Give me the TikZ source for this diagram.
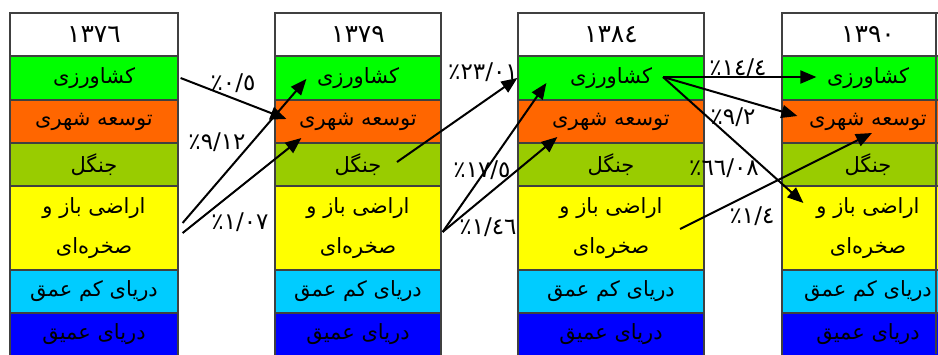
\documentclass[tikz,border=0pt]{standalone}
\usepackage{fontspec}
\newfontfamily\arabicfont[Script=Arabic]{DejaVu Sans}
\TeXXeTstate=1
\usetikzlibrary{arrows.meta,calc}

\definecolor{agri}{HTML}{00FF00}
\definecolor{urban}{HTML}{FF6600}
\definecolor{forest}{HTML}{99CC00}
\definecolor{openland}{HTML}{FFFF00}
\definecolor{shallow}{HTML}{00CCFF}
\definecolor{deep}{HTML}{0000FF}
\definecolor{edge}{HTML}{404040}

\tikzset{
  cell/.style={draw=edge, line width=1.2pt, inner sep=0pt, align=center,
    font=\arabicfont\fontsize{21}{40}\selectfont},
  year/.style={font=\arabicfont\fontsize{25}{28}\selectfont},
  flow/.style={line width=2pt, -{Triangle[length=16pt,width=13pt]}},
  pct/.style={inner sep=0pt, font=\arabicfont\fontsize{23}{26}\selectfont}
}

% percent sign kept on the left of the figure
\newcommand\pcent[1]{\hbox{٪}\hbox{#1}}

% one column of land-use classes: prefix, centre x, width, year
\newcommand\landcolumn[4]{%
  \node[cell, year, fill=white, minimum width=#3pt, minimum height=43pt] (#1h) at (#2,34.5)  {#4};
  \node[cell, fill=agri,     minimum width=#3pt, minimum height=44pt] (#1a) at (#2,78)    {\beginR کشاورزی\endR};
  \node[cell, fill=urban,    minimum width=#3pt, minimum height=43pt] (#1u) at (#2,121.5) {\beginR توسعه شهری\endR};
  \node[cell, fill=forest,   minimum width=#3pt, minimum height=43pt] (#1f) at (#2,164.5) {\beginR جنگل\endR};
  \node[cell, fill=openland, minimum width=#3pt, minimum height=84pt] (#1o) at (#2,228)   {\beginR اراضی باز و\endR\\\beginR صخره‌ای\endR};
  \node[cell, fill=shallow,  minimum width=#3pt, minimum height=43pt] (#1s) at (#2,291.5) {\beginR دریای کم عمق\endR};
  \node[cell, fill=deep,     minimum width=#3pt, minimum height=43pt] (#1d) at (#2,334.5) {\beginR دریای عمیق\endR};
}

\begin{document}
\begin{tikzpicture}[x=1pt, y=-1pt]
  \useasboundingbox (0,0) rectangle (938,354);
  \clip (0,0) rectangle (938,354);

  \landcolumn{c1}{94}{168}{١٣٧٦}
  \landcolumn{c2}{358}{166}{١٣٧٩}
  \landcolumn{c3}{611}{186}{١٣٨٤}
  \landcolumn{c4}{868}{172}{١٣٩٠}
  \draw[edge, line width=1.2pt] (936,13) -- (936,354);

  % start points inside the source classes
  \coordinate (s1)  at ($(c1a.east)+(2,0)$);
  \coordinate (s2)  at ($(c1o.east)+(4,-5)$);
  \coordinate (s3)  at ($(c1o.east)+(4,5)$);
  \coordinate (s4)  at ($(c2f.center)+(39,-2.5)$);
  \coordinate (s5)  at ($(c2o.east)+(1,4)$);
  \coordinate (s7)  at ($(c3a.center)+(52,-1)$);
  \coordinate (s10) at ($(c3o.center)+(69,1)$);

  % tips inside the target classes
  \coordinate (t1)  at ($(c2u.west)+(12,-2.5)$);
  \coordinate (t2)  at ($(c2a.west)+(32,1)$);
  \coordinate (t3)  at ($(c2u.west)+(27,16.5)$);
  \coordinate (t4)  at (c3a.west);
  \coordinate (t5)  at ($(c3a.west)+(29,5)$);
  \coordinate (t6)  at ($(c3u.west)+(40,15.5)$);
  \coordinate (t7)  at ($(c4a.west)+(35,-1)$);
  \coordinate (t8)  at ($(c4u.west)+(16,-5.5)$);
  \coordinate (t9)  at ($(c4o.west)+(22,-25)$);
  \coordinate (t10) at ($(c4u.center)+(4,11.5)$);

  % change percentages
  \node[pct] (p1)  at (233,83)  {\pcent{٠/٥}};
  \node[pct] (p2)  at (217,142) {\pcent{٩/١٢}};
  \node[pct] (p3)  at (240,222) {\pcent{١/٠٧}};
  \node[pct] (p4)  at (483,72)  {\pcent{٢٣/٠١}};
  \node[pct] (p5)  at (482,170) {\pcent{١٧/٥}};
  \node[pct] (p6)  at (488,227) {\pcent{١/٤٦}};
  \node[pct] (p7)  at (738,68)  {\pcent{١٤/٤}};
  \node[pct] (p8)  at (733,117) {\pcent{٩/٢}};
  \node[pct] (p9)  at (724,168) {\pcent{٦٦/٠٨}};
  \node[pct] (p10) at (752,216) {\pcent{١/٤}};

  % land-use transitions
  \draw[flow] (s1) -- (t1);
  \draw[flow] (s2) -- (t2);
  \draw[flow] (s3) -- (t3);
  \draw[flow] (s4) -- (t4);
  \draw[flow] (s5) -- (t5);
  \draw[flow] (s5) -- (t6);
  \draw[flow] (s7) -- (t7);
  \draw[flow] (s7) -- (t8);
  \draw[flow] (s7) -- (t9);
  \draw[flow] (s10) -- (t10);
\end{tikzpicture}
\end{document}
